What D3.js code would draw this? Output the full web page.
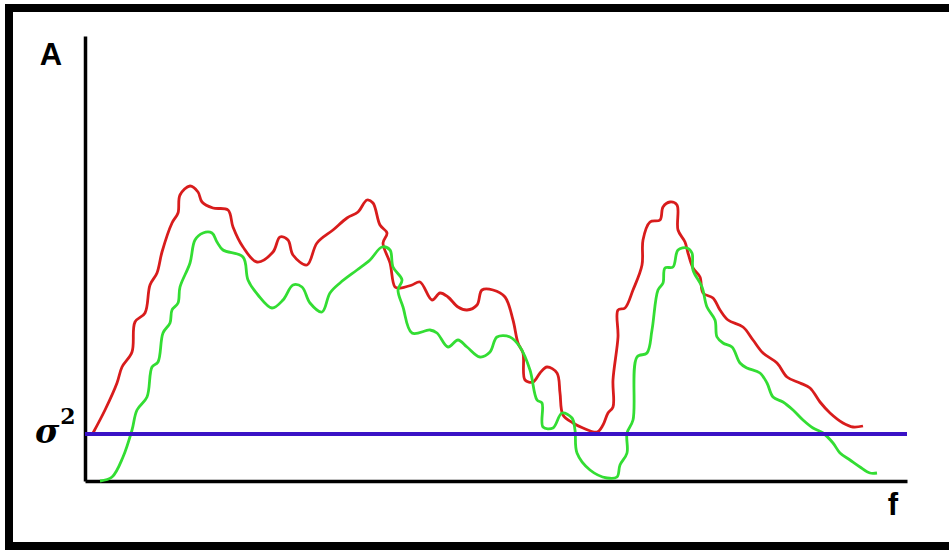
<!DOCTYPE html>
<html>
<head>
<meta charset="utf-8">
<script src="https://cdn.jsdelivr.net/npm/d3@7"></script>
<style>
body { margin: 0; background: #fff; }
</style>
</head>
<body>
<div></div>
<script>
// values: f along the axis, A above the axis
var redF = [8,20,32,37,47,50,60,65,72,77,87,93,95,105,113,117,128,143,148,158,172,188,195,203,208,222,232,248,262,273,282,288,295,302,298,305,310,315,327,335,347,355,363,373,382,392,397,408,420,428,433,438,440,448,455,462,472,475,478,488,498,512,518,523,528,528,533,533,540,548,557,558,565,575,578,585,592,593,600,603,608,615,618,628,635,643,658,668,678,692,702,715,725,735,745,758,768,778];
var redA = [48,71,98,114,129,159,168,196,208,229,258,268,286,295,289,279,273,271,254,234,219,229,244,241,226,216,238,251,263,269,281,278,256,248,238,218,194,193,196,199,181,188,184,174,171,176,191,191,184,161,138,128,101,99,108,114,108,88,66,58,53,49,56,68,74,101,144,171,173,191,216,241,259,261,274,279,276,251,239,228,213,204,188,183,171,161,154,141,128,118,104,98,93,79,68,58,54,55];

var greenF = [15,27,38,47,52,62,67,73,78,85,87,93,95,105,110,118,127,132,138,158,163,173,187,198,208,217,225,237,245,255,272,285,297,305,308,317,313,318,327,345,352,363,373,382,395,405,412,425,435,445,452,457,458,468,477,487,490,492,505,522,532,535,542,542,548,552,562,567,573,578,580,588,593,602,607,608,617,622,630,632,638,647,655,662,675,682,688,698,708,718,728,738,748,755,765,775,785,792];
var greenA = [0,4,24,51,71,84,114,119,148,158,171,178,194,218,241,248,248,239,231,224,201,186,173,181,196,194,178,169,188,198,211,221,234,231,214,201,191,174,148,151,148,134,141,134,124,129,144,144,134,111,81,78,54,53,68,63,51,28,11,3,4,16,28,48,61,124,128,151,191,198,213,214,231,233,228,211,194,174,161,144,138,134,118,113,108,98,84,79,71,61,53,48,38,28,21,14,8,8];

var sigmaLevel = 47;

var width = 949, height = 550;

var svg = d3.select("div")
.append("svg")
.attr("width", width)
.attr("height", height)

// frame round the whole picture
svg.append("rect")
.attr("x", 9)
.attr("y", 8)
.attr("width", 960)
.attr("height", 538)
.style("fill", "none")
.style("stroke", "#000")
.style("stroke-width", 8)

var x = d3.scaleLinear()
.domain([0, 822])
.range([85, 907])

var y = d3.scaleLinear()
.domain([0, 445])
.range([481, 36])

// axes drawn as bare lines, no ticks
svg.append("g")
.attr("transform", "translate(0," + y(0) + ")")
.call(d3.axisBottom(x).ticks(0).tickSize(0))
.call(function(g){ g.select(".domain").style("stroke", "#000").style("stroke-width", 3.5); })

svg.append("g")
.attr("transform", "translate(" + x(0) + ",0)")
.call(d3.axisLeft(y).ticks(0).tickSize(0))
.call(function(g){ g.select(".domain").style("stroke", "#000").style("stroke-width", 3.5); })

var line = d3.line()
.x(function(d){ return x(d[0]); })
.y(function(d){ return y(d[1]); })
.curve(d3.curveCatmullRom.alpha(0.5))

var red = d3.zip(redF, redA);
var green = d3.zip(greenF, greenA);

svg.append("path")
.datum(red)
.attr("d", line)
.style("fill", "none")
.style("stroke", "#d81c1c")
.style("stroke-width", 2.8)
.style("stroke-linejoin", "round")

svg.append("path")
.datum(green)
.attr("d", line)
.style("fill", "none")
.style("stroke", "#33dd33")
.style("stroke-width", 2.8)
.style("stroke-linejoin", "round")

// noise level
svg.append("line")
.attr("x1", x(0))
.attr("x2", x(822))
.attr("y1", y(sigmaLevel))
.attr("y2", y(sigmaLevel))
.style("stroke", "#3a12c6")
.style("stroke-width", 4)

svg.append("text")
.attr("x", 51)
.attr("y", 65)
.attr("text-anchor", "middle")
.style("font-family", "Liberation Sans, Arial, sans-serif")
.style("font-weight", "bold")
.style("font-size", "31px")
.text("A")

svg.append("text")
.attr("x", 893)
.attr("y", 515)
.attr("text-anchor", "middle")
.style("font-family", "Liberation Sans, Arial, sans-serif")
.style("font-weight", "bold")
.style("font-size", "31px")
.text("f")

var sig = svg.append("text")
.attr("x", 35)
.attr("y", 443)
.style("font-family", "DejaVu Serif, serif")
.style("font-weight", "bold")
.style("font-size", "33px")

sig.append("tspan")
.style("font-style", "italic")
.text("σ")

sig.append("tspan")
.attr("dy", -19)
.attr("dx", 1)
.style("font-size", "22px")
.text("2")
</script>
</body>
</html>
